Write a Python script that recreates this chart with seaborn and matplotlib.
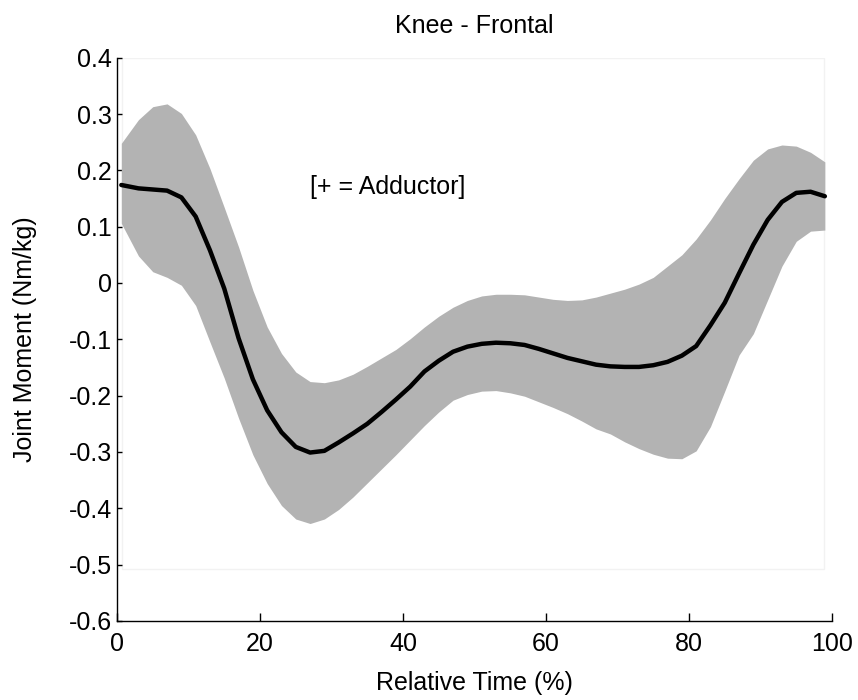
import numpy as np
import pandas as pd
import matplotlib
matplotlib.use("Agg")
import matplotlib.pyplot as plt
import seaborn as sns
from matplotlib.patches import Rectangle

# Gait cycle (% of stride) and knee frontal-plane moment (Nm/kg)
time_pct = [0.6, 3, 5, 7, 9, 11, 13, 15, 17, 19, 21, 23, 25, 27, 29, 31, 33, 35, 37, 39,
            41, 43, 45, 47, 49, 51, 53, 55, 57, 59, 61, 63, 65, 67, 69, 71, 73, 75, 77, 79,
            81, 83, 85, 87, 89, 91, 93, 95, 97, 99]
moment_mean = [0.174, 0.168, 0.166, 0.164, 0.152, 0.118, 0.058, -0.010, -0.098, -0.171,
               -0.226, -0.265, -0.291, -0.301, -0.298, -0.283, -0.267, -0.250, -0.229, -0.207,
               -0.184, -0.157, -0.138, -0.122, -0.113, -0.108, -0.106, -0.107, -0.110, -0.117,
               -0.125, -0.133, -0.139, -0.145, -0.148, -0.149, -0.149, -0.146, -0.140, -0.129,
               -0.112, -0.075, -0.035, 0.017, 0.068, 0.112, 0.144, 0.160, 0.162, 0.154]
moment_upper = [0.248, 0.290, 0.313, 0.318, 0.301, 0.263, 0.203, 0.134, 0.064, -0.013,
                -0.078, -0.125, -0.158, -0.175, -0.177, -0.172, -0.162, -0.148, -0.133, -0.118,
                -0.099, -0.078, -0.059, -0.043, -0.031, -0.023, -0.020, -0.020, -0.021, -0.025,
                -0.029, -0.031, -0.030, -0.025, -0.018, -0.011, -0.002, 0.010, 0.030, 0.050,
                0.078, 0.112, 0.150, 0.185, 0.218, 0.238, 0.245, 0.243, 0.232, 0.215]
moment_lower = [0.106, 0.048, 0.020, 0.010, -0.004, -0.040, -0.105, -0.169, -0.240, -0.305,
                -0.356, -0.395, -0.419, -0.427, -0.419, -0.402, -0.380, -0.355, -0.330, -0.305,
                -0.279, -0.253, -0.229, -0.208, -0.198, -0.192, -0.191, -0.195, -0.201, -0.211,
                -0.221, -0.232, -0.245, -0.259, -0.268, -0.282, -0.294, -0.304, -0.311, -0.312,
                -0.298, -0.255, -0.192, -0.128, -0.090, -0.030, 0.030, 0.074, 0.092, 0.094]

x_ticks = [0, 20, 40, 60, 80, 100]
y_ticks = [-0.6, -0.5, -0.4, -0.3, -0.2, -0.1, 0, 0.1, 0.2, 0.3, 0.4]
y_tick_labels = ["-0.6", "-0.5", "-0.4", "-0.3", "-0.2", "-0.1", "0", "0.1", "0.2", "0.3", "0.4"]

df = pd.DataFrame({"time": time_pct, "mean": moment_mean,
                   "upper": moment_upper, "lower": moment_lower})

sns.set_style("ticks")
plt.rcParams["font.family"] = ["Liberation Sans", "DejaVu Sans"]
plt.rcParams["text.color"] = "black"
plt.rcParams["axes.labelcolor"] = "black"
plt.rcParams["axes.titlecolor"] = "black"
FS = 18

fig = plt.figure(figsize=(8.58, 7.0), dpi=100)
ax = fig.add_axes([0.1364, 0.1129, 0.8333, 0.8047])

# faint frame left behind by the plotted region
ax.add_patch(Rectangle((0.7, -0.508), 98.2, 0.908, fill=False,
                       edgecolor="#f2f2f2", linewidth=1.0, zorder=0))

ax.fill_between(df["time"], df["lower"], df["upper"], color="#b3b3b3",
                linewidth=0, zorder=1)
sns.lineplot(data=df, x="time", y="mean", color="black", linewidth=3.2,
             ax=ax, zorder=2)

ax.set_xlim(0, 100)
ax.set_ylim(-0.6, 0.4)
ax.set_xticks(x_ticks)
ax.set_xticklabels([str(t) for t in x_ticks])
ax.set_yticks(y_ticks)
ax.set_yticklabels(y_tick_labels)
ax.tick_params(axis="x", direction="in", length=5.5, width=1, labelsize=FS,
               colors="black", pad=8)
ax.tick_params(axis="y", direction="in", length=3.8, width=1, labelsize=FS,
               colors="black", pad=3.5)

for side in ("top", "right"):
    ax.spines[side].set_visible(False)
for side in ("left", "bottom"):
    ax.spines[side].set_linewidth(1.0)
    ax.spines[side].set_color("black")

ax.set_xlabel("Relative Time (%)", fontsize=FS, labelpad=11)
ax.set_ylabel("Joint Moment (Nm/kg)", fontsize=FS, labelpad=23)
ax.set_title("Knee - Frontal", fontsize=FS, pad=18)

ax.text(27, 0.17, "[+ = Adductor]", fontsize=FS, va="center", ha="left")

fig.savefig("out.png", dpi=100)
